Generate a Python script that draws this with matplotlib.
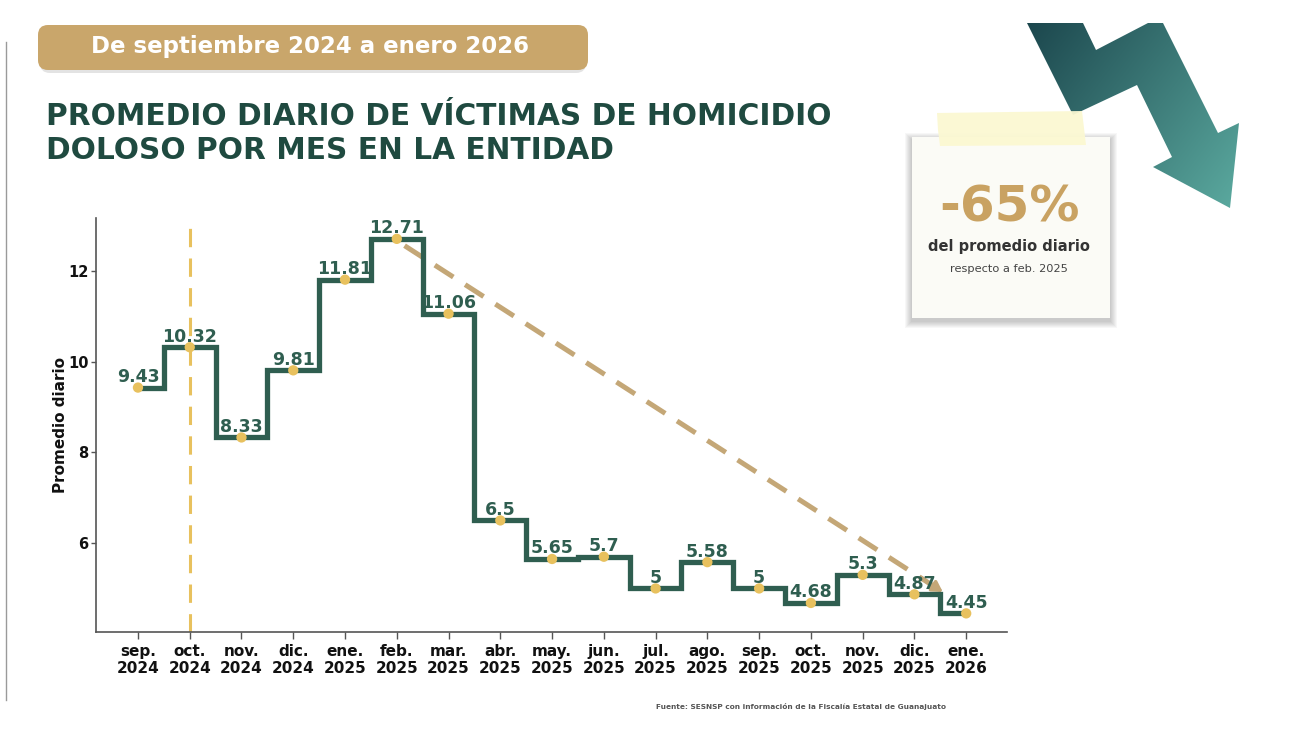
import numpy as np
import matplotlib
matplotlib.use("Agg")
import matplotlib.pyplot as plt
from matplotlib.patches import FancyBboxPatch, Polygon, Rectangle

# Promedio diario de victimas de homicidio doloso, sep 2024 - ene 2026
months = ["sep.\n2024", "oct.\n2024", "nov.\n2024", "dic.\n2024", "ene.\n2025",
          "feb.\n2025", "mar.\n2025", "abr.\n2025", "may.\n2025", "jun.\n2025",
          "jul.\n2025", "ago.\n2025", "sep.\n2025", "oct.\n2025", "nov.\n2025",
          "dic.\n2025", "ene.\n2026"]
values = [9.43, 10.32, 8.33, 9.81, 11.81, 12.71, 11.06, 6.5, 5.65, 5.7,
          5, 5.58, 5, 4.68, 5.3, 4.87, 4.45]
value_labels = ["9.43", "10.32", "8.33", "9.81", "11.81", "12.71", "11.06", "6.5",
                "5.65", "5.7", "5", "5.58", "5", "4.68", "5.3", "4.87", "4.45"]
y_ticks = [6, 8, 10, 12]
marked_month = 1      # oct. 2024, linea vertical
trend_from = 5        # feb. 2025
trend_to = 16         # ene. 2026

GREEN = "#2f5e50"
YELLOW = "#e8c15e"
TAN = "#c4a777"
GOLD = "#c9a66b"
TITLE = "#1f4a40"

fig = plt.figure(figsize=(13.12, 7.34), dpi=100)

# fondo / decoraciones en coordenadas de pixel
bg = fig.add_axes([0, 0, 1, 1], zorder=0)
bg.set_xlim(0, 1312)
bg.set_ylim(734, 0)
bg.axis("off")

bg.plot([6, 6], [42, 700], color="#9a9a9a", lw=1)

# banner
bg.add_patch(FancyBboxPatch((40, 29), 546, 44, boxstyle="round,pad=0,rounding_size=10",
                            fc="#b0b0b0", ec="none", alpha=0.35))
bg.add_patch(FancyBboxPatch((38, 25), 550, 45, boxstyle="round,pad=0,rounding_size=10",
                            fc=GOLD, ec="none"))
bg.text(310, 47, "De septiembre 2024 a enero 2026", ha="center", va="center",
        fontsize=16.5, fontweight="bold", color="white")

# titulo
bg.text(46, 125, "PROMEDIO DIARIO DE VÍCTIMAS DE HOMICIDIO", ha="left", va="baseline",
        fontsize=21.3, fontweight="bold", color=TITLE)
bg.text(46, 159, "DOLOSO POR MES EN LA ENTIDAD", ha="left", va="baseline",
        fontsize=21.3, fontweight="bold", color=TITLE)

# flecha con degradado
arrow_pts = [(1027, 23), (1083, 23), (1096, 50), (1148, 23), (1163, 23), (1218, 133),
             (1239, 123), (1230, 208), (1153, 167), (1172, 157), (1137, 85), (1073, 115)]
arrow = Polygon(arrow_pts, closed=True, fc="none", ec="none", transform=bg.transData)
bg.add_patch(arrow)
gx, gy = np.meshgrid(np.linspace(1020, 1245, 240), np.linspace(20, 212, 200))
t = (gx - 1020) * 0.8 + (gy - 20) * 0.6
t = (t - t.min()) / (t.max() - t.min())
c0 = np.array([0x1a, 0x44, 0x4b]) / 255
c1 = np.array([0x5d, 0xad, 0xa2]) / 255
grad = c0 + (c1 - c0) * t[..., None]
im = bg.imshow(grad, extent=(1020, 1245, 212, 20), origin="upper", aspect="auto", zorder=1)
im.set_clip_path(arrow)
bg.set_xlim(0, 1312)
bg.set_ylim(734, 0)

# nota
for k in range(1, 8):
    bg.add_patch(Rectangle((912 - k, 137 - k + 3), 198 + 2 * k, 181 + 2 * k,
                           fc="black", ec="none", alpha=0.03, zorder=2))
bg.add_patch(Rectangle((912, 137), 198, 181, fc="#fbfbf6", ec="none", zorder=3))
bg.add_patch(Polygon([(937, 113), (1082, 111), (1084, 128), (1086, 145), (940, 146), (938, 130)],
                     closed=True, fc="#fbf8d2", ec="none", alpha=0.95, zorder=4))
bg.text(1009, 222, "-65%", ha="center", va="baseline", fontsize=36, fontweight="bold",
        color="#c9a262", zorder=5)
bg.text(1009, 251, "del promedio diario", ha="center", va="baseline", fontsize=10.5,
        fontweight="bold", color="#333333", zorder=5)
bg.text(1009, 272, "respecto a feb. 2025", ha="center", va="baseline", fontsize=8.2,
        color="#444444", zorder=5)

bg.text(801, 706, "Fuente: SESNSP con información de la Fiscalía Estatal de Guanajuato",
        ha="center", va="center", fontsize=5.3, fontweight="bold", color="#555555")

# grafica
ax = fig.add_axes([0.0732, 0.1390, 0.6944, 0.5640], zorder=1)
ax.patch.set_alpha(0)
x = np.arange(len(values))

ax.axvline(marked_month, color=YELLOW, lw=2.2, dashes=(6, 3.7), zorder=2)
ax.step(x, values, where="mid", color=GREEN, lw=3.8, solid_joinstyle="miter", zorder=3)
ax.scatter(x, values, s=55, color=YELLOW, edgecolors="none", zorder=4)

for xi, v, lab in zip(x, values, value_labels):
    ax.annotate(lab, (xi, v), xytext=(0, 4), textcoords="offset points", ha="center",
                va="baseline", fontsize=12.5, fontweight="bold", color=GREEN, zorder=5)

# tendencia feb. 2025 -> ene. 2026
x0, y0 = x[trend_from] + 0.15, values[trend_from] - 0.15
x1, y1 = x[trend_to] - 0.45, values[trend_to] + 0.47
slope = (y0 - y1) / (x1 - x0)
ax.plot([x0, x1 - 0.15], [y0, y1 + 0.15 * slope], color=TAN, lw=3.6,
        dashes=(4.4, 2.8), zorder=2)
ax.annotate("", xy=(x1, y1), xytext=(x1 - 0.4, y1 + 0.4 * slope),
            arrowprops=dict(arrowstyle="-|>,head_length=0.6,head_width=0.35", color=TAN,
                            lw=2.5, shrinkA=0, shrinkB=0), zorder=2)

ax.set_xlim(-0.81, 16.79)
ax.set_ylim(4.04, 13.17)
ax.set_xticks(x, months)
ax.set_yticks(y_ticks)
ax.tick_params(labelsize=11, color="#555555", width=1, labelcolor="#111111")
ax.tick_params(axis="x", length=5)
ax.tick_params(axis="y", length=3.5, pad=2, labelsize=10.5)
for lab in ax.get_xticklabels() + ax.get_yticklabels():
    lab.set_fontweight("bold")
ax.set_ylabel("Promedio diario", fontsize=11, fontweight="bold", color="#111111")
ax.yaxis.set_label_coords(-0.0305, 0.5)
for side in ["top", "right"]:
    ax.spines[side].set_visible(False)
for side in ["left", "bottom"]:
    ax.spines[side].set_color("#555555")
    ax.spines[side].set_linewidth(1.2)

fig.savefig("out.png", dpi=100)
